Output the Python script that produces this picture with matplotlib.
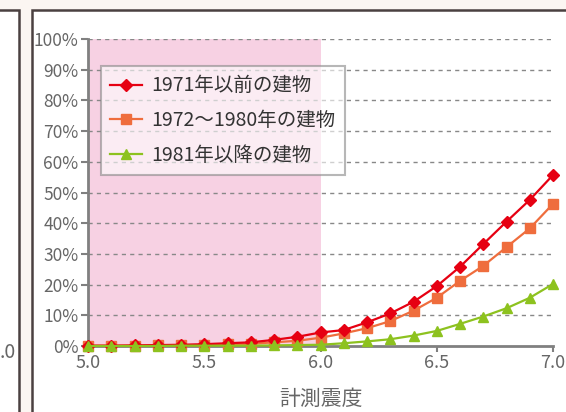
import matplotlib
matplotlib.use("Agg")
import matplotlib.pyplot as plt
from matplotlib.patches import Rectangle
from matplotlib.ticker import FuncFormatter, MultipleLocator

plt.rcParams['font.family'] = ['Noto Sans CJK JP', 'DejaVu Sans']

intensity = [5.0, 5.1, 5.2, 5.3, 5.4, 5.5, 5.6, 5.7, 5.8, 5.9, 6.0,
             6.1, 6.2, 6.3, 6.4, 6.5, 6.6, 6.7, 6.8, 6.9, 7.0]
pre1971 = [0.1, 0.1, 0.2, 0.3, 0.4, 0.6, 0.9, 1.2, 2.0, 3.0, 4.4,
           5.2, 7.7, 10.6, 14.4, 19.5, 25.8, 33.2, 40.5, 47.6, 55.7]
y1972_1980 = [0.1, 0.1, 0.1, 0.2, 0.2, 0.3, 0.5, 0.7, 1.2, 1.7, 2.7,
              4.1, 5.8, 8.1, 11.5, 15.7, 21.2, 26.1, 32.2, 38.3, 46.3]
post1981 = [0.0, 0.0, 0.0, 0.0, 0.1, 0.1, 0.1, 0.1, 0.2, 0.3, 0.4,
            0.9, 1.5, 2.2, 3.4, 4.9, 7.2, 9.6, 12.3, 15.7, 20.2]
labels = ['1971年以前の建物', '1972～1980年の建物', '1981年以降の建物']
xlabel = '計測震度'

W, H = 566, 412
fig = plt.figure(figsize=(W/100, H/100), dpi=100, facecolor='#fbf6f2')

# background panels
fig.patches.append(Rectangle((32/W, -0.1), 1.0, (H-10)/H + 0.1, transform=fig.transFigure,
                             facecolor='white', edgecolor='#4a4040', linewidth=1.8, zorder=-10))
fig.patches.append(Rectangle((-0.1, -0.1), (19/W) + 0.1, (H-10)/H + 0.1, transform=fig.transFigure,
                             facecolor='white', edgecolor='#4a4040', linewidth=1.8, zorder=-10))
fig.text(8/W, 1-352/H, '.0', fontsize=14, color='#666666', ha='center', va='center')

ax = fig.add_axes([88/W, 1-346/H, (553-88)/W, (346-39)/H])
ax.set_facecolor('none')
ax.set_xlim(5.0, 7.0)
ax.set_ylim(0, 100)

ax.axvspan(5.0, 6.0, color='#f7d1e3', zorder=0, lw=0)

for v in range(10, 101, 10):
    ax.axhline(v, color='#888888', lw=1.0, ls=(0, (3, 3)), zorder=1)

ax.plot(intensity, pre1971, color='#e60012', marker='D', markersize=6, lw=1.6,
        label=labels[0], clip_on=False, zorder=5)
ax.plot(intensity, y1972_1980, color='#ef6d3d', marker='s', markersize=6.5, lw=1.6,
        label=labels[1], clip_on=False, zorder=4)
ax.plot(intensity, post1981, color='#8dc21f', marker='^', markersize=7, lw=1.6,
        label=labels[2], clip_on=False, zorder=6)

for s in ['top', 'right']:
    ax.spines[s].set_visible(False)
for s in ['left', 'bottom']:
    ax.spines[s].set_color('#808080')
    ax.spines[s].set_linewidth(2)

ax.xaxis.set_major_locator(MultipleLocator(0.5))
ax.yaxis.set_major_locator(MultipleLocator(10))
ax.xaxis.set_major_formatter(FuncFormatter(lambda v, p: f'{v:.1f}'))
ax.yaxis.set_major_formatter(FuncFormatter(lambda v, p: f'{int(round(v))}%'))
ax.tick_params(axis='both', colors='#808080', labelcolor='#666666')
ax.tick_params(axis='y', length=5, width=1.5, pad=2, labelsize=12.5)
ax.tick_params(axis='x', length=4, width=1.5, pad=2, labelsize=13)
ax.set_xlabel(xlabel, fontsize=15, color='#666666', labelpad=11)

leg = ax.legend(loc='upper left', bbox_to_anchor=(0.027, 0.913), fontsize=14,
                frameon=True, fancybox=False, borderpad=0.5, labelspacing=0.7,
                handlelength=1.65, handletextpad=0.45, borderaxespad=0)
leg.get_frame().set_facecolor('white')
leg.get_frame().set_alpha(0.6)
leg.get_frame().set_edgecolor('#888888')
leg.get_frame().set_linewidth(1.5)
for t in leg.get_texts():
    t.set_color('#333333')

fig.savefig('out.png', dpi=100, facecolor=fig.get_facecolor())
